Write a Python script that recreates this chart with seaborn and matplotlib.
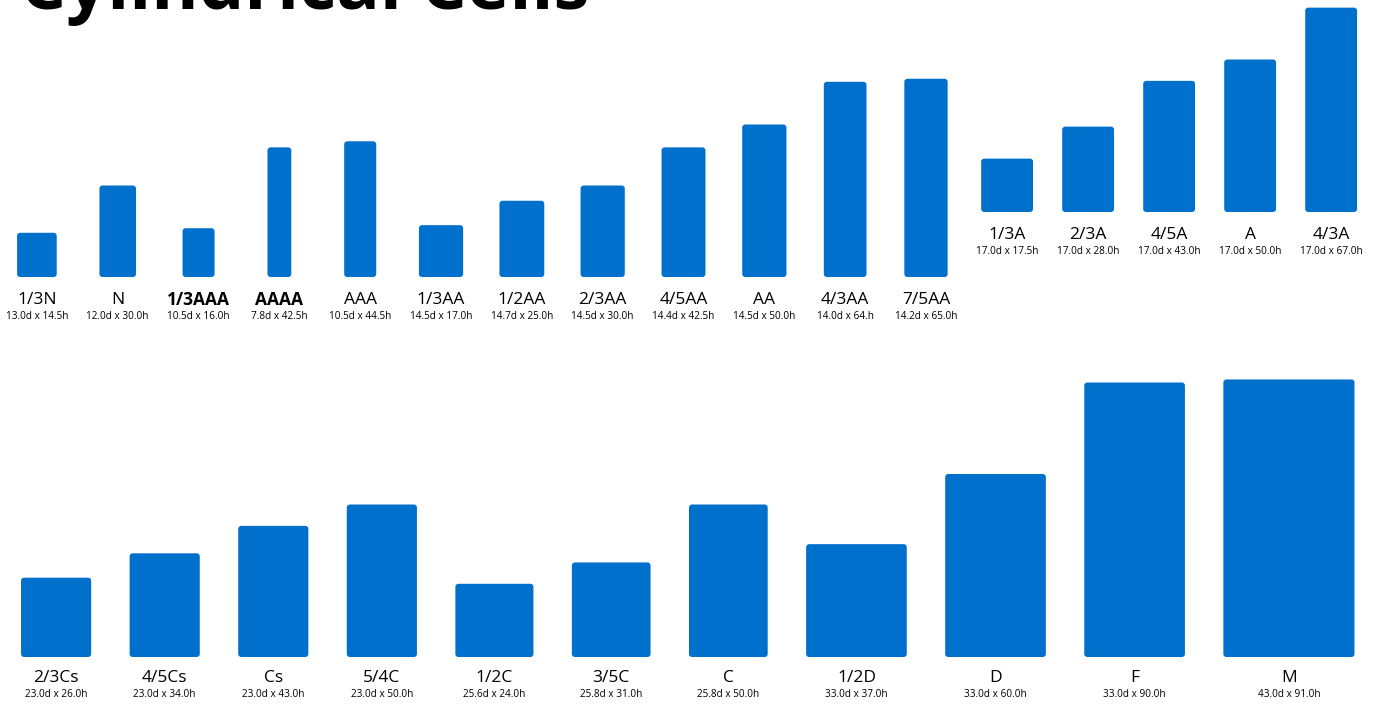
import numpy as np
import pandas as pd
import seaborn as sns
import matplotlib.pyplot as plt
from matplotlib.patches import FancyBboxPatch

sns.set_theme(style="white")
plt.rcParams["font.family"] = ["Open Sans", "DejaVu Sans"]

# cell sizes in mm (diameter, height) and the printed labels
top_names = ["1/3N", "N", "1/3AAA", "AAAA", "AAA", "1/3AA", "1/2AA", "2/3AA",
             "4/5AA", "AA", "4/3AA", "7/5AA"]
top_diam = [13.0, 12.0, 10.5, 7.8, 10.5, 14.5, 14.7, 14.5, 14.4, 14.5, 14.0, 14.2]
top_height = [14.5, 30.0, 16.0, 42.5, 44.5, 17.0, 25.0, 30.0, 42.5, 50.0, 64.0, 65.0]
top_dims = ["13.0d x 14.5h", "12.0d x 30.0h", "10.5d x 16.0h", "7.8d x 42.5h",
            "10.5d x 44.5h", "14.5d x 17.0h", "14.7d x 25.0h", "14.5d x 30.0h",
            "14.4d x 42.5h", "14.5d x 50.0h", "14.0d x 64.h", "14.2d x 65.0h"]
bold_names = ["1/3AAA", "AAAA"]

a_names = ["1/3A", "2/3A", "4/5A", "A", "4/3A"]
a_diam = [17.0, 17.0, 17.0, 17.0, 17.0]
a_height = [17.5, 28.0, 43.0, 50.0, 67.0]
a_dims = ["17.0d x 17.5h", "17.0d x 28.0h", "17.0d x 43.0h", "17.0d x 50.0h",
          "17.0d x 67.0h"]

big_names = ["2/3Cs", "4/5Cs", "Cs", "5/4C", "1/2C", "3/5C", "C", "1/2D", "D", "F", "M"]
big_diam = [23.0, 23.0, 23.0, 23.0, 25.6, 25.8, 25.8, 33.0, 33.0, 33.0, 43.0]
big_height = [26.0, 34.0, 43.0, 50.0, 24.0, 31.0, 50.0, 37.0, 60.0, 90.0, 91.0]
big_dims = ["23.0d x 26.0h", "23.0d x 34.0h", "23.0d x 43.0h", "23.0d x 50.0h",
            "25.6d x 24.0h", "25.8d x 31.0h", "25.8d x 50.0h", "33.0d x 37.0h",
            "33.0d x 60.0h", "33.0d x 90.0h", "43.0d x 91.0h"]

blue = "#0070CD"
W, H = 1373, 704
px = 3.05  # pixels per mm

fig = plt.figure(figsize=(W / 100, H / 100), dpi=100)
ax = fig.add_axes([0, 0, 1, 1])
ax.set_xlim(0, W / px)
ax.set_ylim(0, H / px)
ax.set_axis_off()


def draw_cells(df, base, name_off, dim_off):
    for _, r in df.iterrows():
        left = r.cx - r.diam / 2
        ax.add_patch(FancyBboxPatch((left, base), r.diam, r.height,
                                    boxstyle="round,pad=0,rounding_size=1.0",
                                    fc=blue, ec="none"))
        ax.text(r.cx, base - name_off, r.name_, ha="center", va="center",
                fontsize=12.5, color="black",
                fontweight="bold" if r.name_ in bold_names else "normal")
        ax.text(r.cx, base - dim_off, r.dims, ha="center", va="center",
                fontsize=7.2, color="black")


# top row: fixed pitch
top = pd.DataFrame({"name_": top_names, "diam": top_diam,
                    "height": top_height, "dims": top_dims})
top["cx"] = 12.1 + np.arange(len(top)) * 26.5
draw_cells(top, (H - 277) / px, 7.6, 12.9)

a = pd.DataFrame({"name_": a_names, "diam": a_diam,
                  "height": a_height, "dims": a_dims})
a["cx"] = 330.2 + np.arange(len(a)) * 26.56
draw_cells(a, (H - 212) / px, 7.5, 12.9)

# bottom row: constant gap between cells
big = pd.DataFrame({"name_": big_names, "diam": big_diam,
                    "height": big_height, "dims": big_dims})
gap = 12.6
lefts = 6.9 + np.concatenate([[0], np.cumsum(big["diam"].values[:-1] + gap)])
big["cx"] = lefts + big["diam"] / 2
draw_cells(big, (H - 657) / px, 6.9, 12.3)

fig.text(20 / W, 1 - 9 / H, "Cylindrical Cells", ha="left", va="baseline",
         fontsize=52, fontweight="bold", color="black")

fig.savefig("out.png", dpi=100)
